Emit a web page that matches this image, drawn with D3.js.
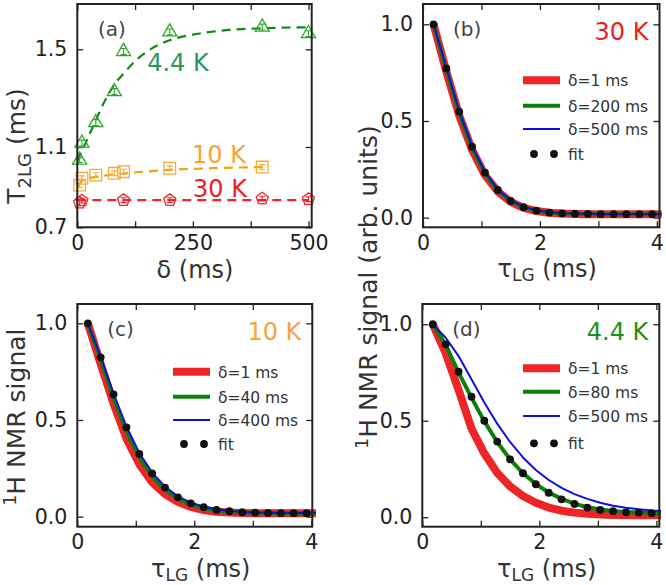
<!DOCTYPE html>
<html><head><meta charset="utf-8">
<script src="https://cdn.jsdelivr.net/npm/d3@7"></script>
<style>body{margin:0;background:#fff} svg text{font-family:"DejaVu Sans",sans-serif}</style>
</head><body><svg id="c" width="666" height="585"></svg>
<script>
// ---------- Panel (a): T2LG vs delta ----------
const deltaG = [5, 10, 40, 80, 100, 200, 400, 500];
const t2G    = [1.035, 1.116, 1.2, 1.327, 1.491, 1.571, 1.591, 1.564];
const deltaO = [5, 10, 40, 80, 100, 200, 400];
const t2O    = [0.91, 0.944, 0.96, 0.969, 0.977, 0.994, 1.0];
const deltaR = [5, 10, 100, 200, 400, 500];
const t2R    = [0.822, 0.833, 0.835, 0.835, 0.843, 0.84];
const errA   = 0.012;
const fitGd  = [0, 10, 20, 40, 60, 80, 100, 125, 150, 200, 250, 300, 400, 500];
const fitGv  = [1.03, 1.08, 1.125, 1.21, 1.29, 1.355, 1.4, 1.452, 1.49, 1.537, 1.56, 1.574, 1.586, 1.59];
const fitOd  = [0, 10, 25, 50, 100, 150, 200, 300, 400];
const fitOv  = [0.905, 0.93, 0.945, 0.955, 0.968, 0.978, 0.986, 0.995, 1.0];
const fitRd  = [0, 500];
const fitRv  = [0.835, 0.835];
const xTicksA = [0, 125, 250, 375, 500];
const xLabA   = ["0", "", "250", "", "500"];
const yTicksA = [0.7, 1.1, 1.5];
const yLabA   = ["0.7", "1.1", "1.5"];

// ---------- Panels (b)-(d): decay curves ----------
const tauDots = [0.18,0.40,0.62,0.84,1.06,1.28,1.50,1.72,1.94,2.16,2.38,2.60,2.82,3.04,3.26,3.48,3.70,3.92];
const tauLine = [0.18,0.40,0.62,0.84,1.06,1.28,1.50,1.72,1.94,2.16,2.38,2.60,2.82,3.04,3.26,3.48,3.70,3.92,4.08];
// 30 K
const fit30   = [1.0,0.772,0.548,0.367,0.233,0.143,0.086,0.054,0.036,0.026,0.022,0.02,0.019,0.018,0.018,0.018,0.018,0.018];
const red30   = [1.0,0.755,0.528,0.35,0.22,0.135,0.081,0.05,0.034,0.025,0.021,0.019,0.018,0.018,0.017,0.017,0.017,0.017,0.017];
const green30 = [1.0,0.765,0.54,0.36,0.228,0.14,0.085,0.053,0.036,0.026,0.022,0.02,0.019,0.018,0.018,0.018,0.018,0.018,0.018];
const blue30  = [1.0,0.775,0.55,0.37,0.236,0.146,0.089,0.056,0.038,0.028,0.023,0.021,0.02,0.019,0.019,0.019,0.019,0.019,0.019];
// 10 K
const fit10   = [1.0,0.824,0.633,0.462,0.324,0.224,0.150,0.100,0.069,0.049,0.035,0.028,0.023,0.021,0.019,0.018,0.018,0.018];
const red10   = [1.0,0.79,0.585,0.405,0.272,0.178,0.117,0.077,0.05,0.034,0.025,0.021,0.019,0.018,0.017,0.017,0.017,0.017,0.017];
const green10 = [1.0,0.812,0.615,0.443,0.308,0.21,0.14,0.093,0.063,0.045,0.033,0.026,0.022,0.02,0.019,0.018,0.018,0.018,0.018];
const blue10  = [1.0,0.827,0.637,0.466,0.329,0.228,0.155,0.105,0.073,0.052,0.038,0.03,0.025,0.022,0.02,0.019,0.019,0.019,0.019];
// 4.4 K
const fit44   = [1.0,0.896,0.754,0.625,0.5,0.392,0.30,0.228,0.171,0.127,0.093,0.069,0.050,0.038,0.031,0.026,0.024,0.021];
const red44   = [1.0,0.85,0.66,0.46,0.33,0.23,0.16,0.11,0.075,0.05,0.034,0.024,0.018,0.014,0.012,0.011,0.01,0.01,0.01];
const green44 = [1.0,0.893,0.75,0.62,0.497,0.39,0.30,0.228,0.172,0.128,0.095,0.07,0.052,0.04,0.032,0.027,0.024,0.022,0.021];
const blue44  = [1.0,0.93,0.835,0.715,0.595,0.485,0.39,0.31,0.245,0.193,0.152,0.12,0.095,0.075,0.06,0.049,0.041,0.035,0.032];

const xTicksT = [0, 1, 2, 3, 4];
const xLabT   = ["0", "", "2", "", "4"];
const yTicksS = [0, 0.5, 1.0];
const yLabS   = ["0.0", "0.5", "1.0"];
const legB = ["δ=1 ms", "δ=200 ms", "δ=500 ms", "fit"];
const legC = ["δ=1 ms", "δ=40 ms", "δ=400 ms", "fit"];
const legD = ["δ=1 ms", "δ=80 ms", "δ=500 ms", "fit"];

// ---------- drawing ----------
const svg = d3.select("#c");
const INK = "#222";
const RED = "#ee2528", GREEN = "#0a800a", BLUE = "#1010dd";

function frame(x, y, xt, xl, yt, yl) {
  const g = svg.append("g");
  const [x0, x1] = x.range();
  const yr = y.range(); const yb = yr[0], yt0 = yr[yr.length - 1];
  g.append("g").attr("transform", `translate(0,${yb})`)
    .call(d3.axisBottom(x).tickValues(xt).tickFormat((d, i) => xl[i]).tickSizeInner(-6).tickSizeOuter(0).tickPadding(8));
  g.append("g").attr("transform", `translate(0,${yt0})`)
    .call(d3.axisTop(x).tickValues(xt).tickFormat("").tickSizeInner(-6).tickSizeOuter(0));
  g.append("g").attr("transform", `translate(${x0},0)`)
    .call(d3.axisLeft(y).tickValues(yt).tickFormat((d, i) => yl[i]).tickSizeInner(-6).tickSizeOuter(0).tickPadding(10));
  g.append("g").attr("transform", `translate(${x1},0)`)
    .call(d3.axisRight(y).tickValues(yt).tickFormat("").tickSizeInner(-6).tickSizeOuter(0));
  g.selectAll(".domain").remove();
  g.selectAll(".tick line").attr("stroke", INK).attr("stroke-width", 1.3);
  g.selectAll(".tick text").attr("font-size", 20.5).attr("fill", INK).attr("font-family", "DejaVu Sans");
  return g;
}
function box(x, y) {
  const [x0, x1] = x.range(); const yr = y.range();
  svg.append("rect").attr("x", x0).attr("y", yr[yr.length - 1])
    .attr("width", x1 - x0).attr("height", yr[0] - yr[yr.length - 1])
    .attr("fill", "none").attr("stroke", INK).attr("stroke-width", 2);
}
function txt(x, y, s, size, fill, anchor) {
  return svg.append("text").attr("x", x).attr("y", y).text(s)
    .attr("font-size", size).attr("fill", fill).attr("text-anchor", anchor || "start");
}
function tauTitle(cx, by) {
  const t = svg.append("text").attr("x", cx).attr("y", by).attr("text-anchor", "middle")
    .attr("font-size", 24).attr("fill", "#333");
  t.append("tspan").text("τ");
  t.append("tspan").text("LG").attr("font-size", 17).attr("dy", 4);
  t.append("tspan").text(" (ms)").attr("dy", -4);
}

// ===== Panel (a) =====
const xa = d3.scaleLinear().domain([0, 507]).range([77.3, 311.7]);
const ya = d3.scaleLinear().domain([0.7, 1.1, 1.5, 1.685]).range([227.3, 147, 49.3, 4]);
frame(xa, ya, xTicksA, xLabA, yTicksA, yLabA);
const line = (xs, ys, X, Y, curve) => d3.line().x((d, i) => X(xs[i])).y((d, i) => Y(ys[i])).curve(curve || d3.curveLinear)(xs);

const GA = "#2fa52f", OA = "#f5ac35", RA = "#ee2528";
svg.append("path").attr("d", line(fitRd, fitRv, xa, ya)).attr("fill", "none").attr("stroke", RA).attr("stroke-width", 2.2).attr("stroke-dasharray", "9,6");
svg.append("path").attr("d", line(fitOd, fitOv, xa, ya, d3.curveMonotoneX)).attr("fill", "none").attr("stroke", "#f5a300").attr("stroke-width", 2.2).attr("stroke-dasharray", "9,6");
svg.append("path").attr("d", line(fitGd, fitGv, xa, ya, d3.curveMonotoneX)).attr("fill", "none").attr("stroke", "#128a12").attr("stroke-width", 2.2).attr("stroke-dasharray", "9,6");

function markers(xs, ys, sym, size, col) {
  const g = svg.append("g");
  xs.forEach((d, i) => {
    const cx = xa(d), cy = ya(ys[i]);
    g.append("path").attr("d", d3.symbol().type(sym).size(size)()).attr("transform", `translate(${cx},${cy})`)
      .attr("fill", "none").attr("stroke", col).attr("stroke-width", 1.3);
    const e0 = ya(ys[i] - errA), e1 = ya(ys[i] + errA);
    g.append("path").attr("d", `M${cx},${e0}V${e1}M${cx - 3},${e0}H${cx + 3}M${cx - 3},${e1}H${cx + 3}`)
      .attr("stroke", col).attr("stroke-width", 1.1).attr("fill", "none");
  });
}
const pentagon = { draw(ctx, size) { const r = Math.sqrt(size / 2.378); for (let k = 0; k < 5; k++) { const a = -Math.PI / 2 + k * 2 * Math.PI / 5; const px = r * Math.cos(a), py = r * Math.sin(a); k ? ctx.lineTo(px, py) : ctx.moveTo(px, py); } ctx.closePath(); } };
markers(deltaR, t2R, pentagon, 95, RA);
markers(deltaO, t2O, d3.symbolSquare, 135, OA);
markers(deltaG, t2G, d3.symbolTriangle, 85, GA);

txt(178, 71, "4.4 K", 24, "#2e9460", "middle");
txt(219, 163, "10 K", 24, "#f5a33a", "middle");
txt(220, 197, "30 K", 24, "#ee1c1c", "middle");
txt(98, 36, "(a)", 20, "#444");
box(xa, ya);
// axis titles (a)
txt(195, 278, "δ (ms)", 24, "#333", "middle");
{
  const t = svg.append("text").attr("transform", "translate(25,146) rotate(-90)").attr("text-anchor", "middle").attr("font-size", 25).attr("fill", "#333");
  t.append("tspan").text("T");
  t.append("tspan").text("2LG").attr("font-size", 18).attr("dy", 6);
  t.append("tspan").text(" (ms)").attr("dy", -6);
}

// ===== decay panels =====
function decay(x, y, red, green, blue, fit, leg, legX, legY, tLabel, tCol, pLabel) {
  frame(x, y, xTicksT, xLabT, yTicksS, yLabS);
  const mk = (vals, col, w) => svg.append("path").attr("d", line(tauLine, vals, x, y))
    .attr("fill", "none").attr("stroke", col).attr("stroke-width", w).attr("stroke-linejoin", "round");
  mk(red, RED, 8); mk(green, GREEN, 4); mk(blue, BLUE, 2);
  svg.append("g").selectAll("circle").data(fit).join("circle")
    .attr("cx", (d, i) => x(tauDots[i])).attr("cy", d => y(d)).attr("r", 3.9).attr("fill", "#111");
  // legend
  const cols = [RED, GREEN, BLUE], ws = [8, 4, 2];
  leg.forEach((s, i) => {
    const yy = legY[i];
    if (i < 3) svg.append("line").attr("x1", legX).attr("x2", legX + 37).attr("y1", yy).attr("y2", yy).attr("stroke", cols[i]).attr("stroke-width", ws[i]);
    else { [legX + 11, legX + 31].forEach(cx => svg.append("circle").attr("cx", cx).attr("cy", yy).attr("r", 3.9).attr("fill", "#111")); }
    txt(legX + 45, yy + 6, s, 15.5, "#333");
  });
  const [x0, x1] = x.range(); const yr = y.range(); const top = yr[yr.length - 1];
  txt(x1 - 11, top + 36, tLabel, 24, tCol, "end");
  txt(x0 + 30, top + 32, pLabel, 20, "#444");
  box(x, y);
  tauTitle((x0 + x1) / 2 + 6, yr[0] + 50);
}

const xb = d3.scaleLinear().domain([0, 4.045]).range([423, 659.5]);
const yb = d3.scaleLinear().domain([-0.05, 1.105]).range([227.3, 4]);
decay(xb, yb, red30, green30, blue30, fit30, legB, 523, [80.3, 105.7, 129, 154], "30 K", "#ee1c1c", "(b)");

const xc = d3.scaleLinear().domain([0, 4.017]).range([77.3, 312.3]);
const yc = d3.scaleLinear().domain([-0.052, 1.1]).range([526.7, 304]);
decay(xc, yc, red10, green10, blue10, fit10, legC, 173, [371.7, 396.7, 420, 444], "10 K", "#f5a33a", "(c)");

const xd = d3.scaleLinear().domain([0, 4.05]).range([422.3, 659.3]);
const yd = d3.scaleLinear().domain([-0.049, 1.105]).range([526.7, 304]);
decay(xd, yd, red44, green44, blue44, fit44, legD, 523, [368.3, 391.7, 416, 443.3], "4.4 K", "#1f8f1f", "(d)");

// y titles
function nmrTitle(tx, ty, rest) {
  const t = svg.append("text").attr("transform", `translate(${tx},${ty}) rotate(-90)`).attr("text-anchor", "middle").attr("font-size", 25).attr("fill", "#333");
  t.append("tspan").text("1").attr("font-size", 17).attr("dy", -9);
  t.append("tspan").text("H NMR signal" + rest).attr("dy", 9);
}
nmrTitle(25, 417, "");
nmrTitle(377, 287, " (arb. units)");
</script>
</body></html>
